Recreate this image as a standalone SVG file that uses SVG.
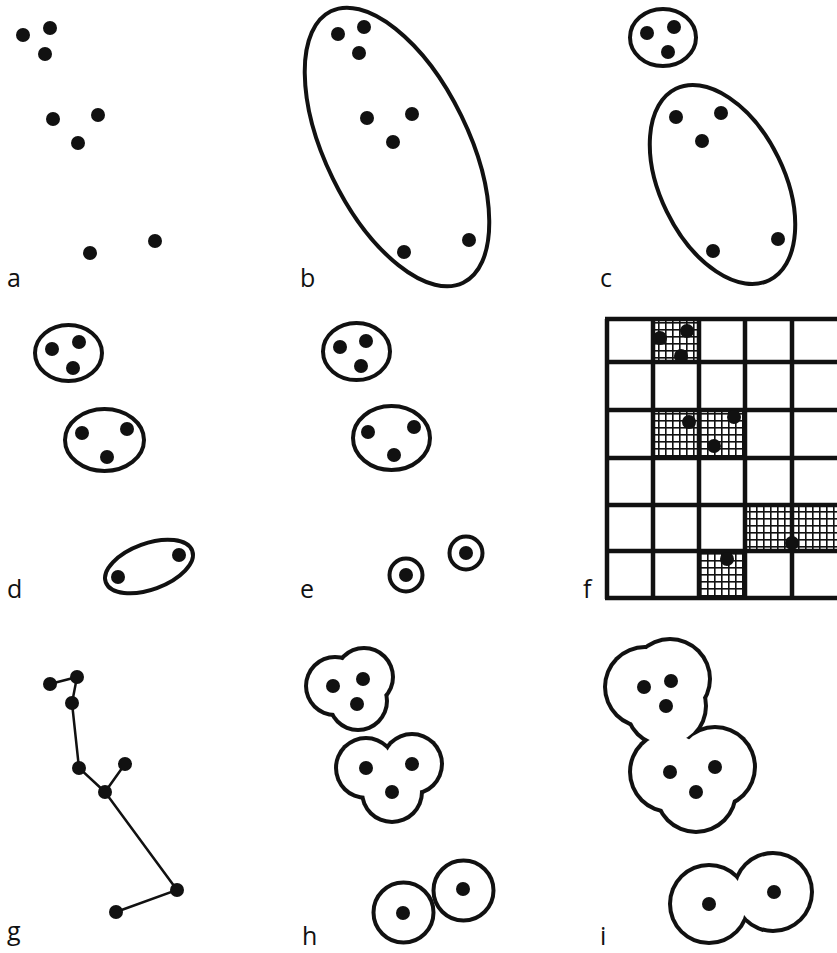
<svg xmlns="http://www.w3.org/2000/svg" width="837" height="953" viewBox="0 0 837 953">
<defs>
<style>
.dot{fill:#111}
.ring{fill:none;stroke:#111;stroke-width:4}
.lbl{font-family:"Open Sans","Liberation Sans",sans-serif;font-size:25px;fill:#111}
.grid{stroke:#111;stroke-width:4.5;fill:none}
.edge{stroke:#111;stroke-width:2.5;fill:none}
.blk{fill:#111}
.wht{fill:#fff}
</style>
<pattern id="hatch" patternUnits="userSpaceOnUse" width="7" height="7" x="0" y="0">
<rect x="0" y="0" width="7" height="7" fill="#fff"/>
<rect x="0" y="0" width="1.6" height="7" fill="#111"/>
<rect x="0" y="0" width="7" height="1.6" fill="#111"/>
</pattern>
</defs>
<rect width="837" height="953" fill="#fff"/>

<!-- panel a -->
<g id="panel-a">
<circle class="dot" cx="23" cy="35" r="7"/><circle class="dot" cx="50" cy="28" r="7"/><circle class="dot" cx="45" cy="54" r="7"/>
<circle class="dot" cx="53" cy="119" r="7"/><circle class="dot" cx="98" cy="115" r="7"/><circle class="dot" cx="78" cy="143" r="7"/>
<circle class="dot" cx="90" cy="253" r="7"/><circle class="dot" cx="155" cy="241" r="7"/>
<text class="lbl" x="7" y="287">a</text>
</g>

<!-- panel b -->
<g id="panel-b">
<ellipse class="ring" cx="397" cy="147" rx="151" ry="71.5" transform="rotate(64 397 147)"/>
<circle class="dot" cx="338" cy="34" r="7"/><circle class="dot" cx="364" cy="27" r="7"/><circle class="dot" cx="359" cy="53" r="7"/>
<circle class="dot" cx="367" cy="118" r="7"/><circle class="dot" cx="412" cy="114" r="7"/><circle class="dot" cx="393" cy="142" r="7"/>
<circle class="dot" cx="404" cy="252" r="7"/><circle class="dot" cx="469" cy="240" r="7"/>
<text class="lbl" x="300" y="287">b</text>
</g>

<!-- panel c -->
<g id="panel-c">
<ellipse class="ring" cx="663" cy="37.5" rx="33" ry="28.5"/>
<ellipse class="ring" cx="722.5" cy="184.5" rx="106.5" ry="62" transform="rotate(64 722.5 184.5)"/>
<circle class="dot" cx="647" cy="33" r="7"/><circle class="dot" cx="674" cy="27" r="7"/><circle class="dot" cx="668" cy="52" r="7"/>
<circle class="dot" cx="676" cy="117" r="7"/><circle class="dot" cx="721" cy="113" r="7"/><circle class="dot" cx="702" cy="141" r="7"/>
<circle class="dot" cx="713" cy="251" r="7"/><circle class="dot" cx="778" cy="239" r="7"/>
<text class="lbl" x="600" y="287">c</text>
</g>

<!-- panel d -->
<g id="panel-d">
<ellipse class="ring" cx="68.5" cy="353" rx="33.5" ry="28"/>
<ellipse class="ring" cx="104.5" cy="440" rx="39.5" ry="31"/>
<ellipse class="ring" cx="149" cy="566.5" rx="46" ry="23" transform="rotate(-20 149 566.5)"/>
<circle class="dot" cx="52" cy="349" r="7"/><circle class="dot" cx="79" cy="342" r="7"/><circle class="dot" cx="73" cy="368" r="7"/>
<circle class="dot" cx="82" cy="433" r="7"/><circle class="dot" cx="127" cy="429" r="7"/><circle class="dot" cx="107" cy="457" r="7"/>
<circle class="dot" cx="118" cy="577" r="7"/><circle class="dot" cx="179" cy="555" r="7"/>
<text class="lbl" x="7" y="598">d</text>
</g>

<!-- panel e -->
<g id="panel-e">
<ellipse class="ring" cx="356.5" cy="351.5" rx="33.5" ry="28.5"/>
<ellipse class="ring" cx="391.5" cy="438" rx="38.5" ry="32"/>
<circle class="ring" cx="406" cy="575" r="16.5"/>
<circle class="ring" cx="466" cy="553" r="16.5"/>
<circle class="dot" cx="340" cy="347" r="7"/><circle class="dot" cx="366" cy="341" r="7"/><circle class="dot" cx="361" cy="366" r="7"/>
<circle class="dot" cx="368" cy="432" r="7"/><circle class="dot" cx="414" cy="427" r="7"/><circle class="dot" cx="394" cy="455" r="7"/>
<circle class="dot" cx="406" cy="575" r="7"/><circle class="dot" cx="466" cy="553" r="7"/>
<text class="lbl" x="300" y="598">e</text>
</g>

<!-- panel f -->
<g id="panel-f">
<rect x="653" y="319" width="46" height="43" fill="url(#hatch)"/>
<rect x="653" y="410" width="92" height="48" fill="url(#hatch)"/>
<rect x="745" y="505" width="93" height="46" fill="url(#hatch)"/>
<rect x="699" y="551" width="46" height="48" fill="url(#hatch)"/>
<path class="grid" d="M607 319V599M653 319V599M699 319V599M745 319V599M792 319V599M605 319H840M605 362H840M605 410H840M605 458H840M605 505H840M605 551H840M605 598H840"/>
<circle class="dot" cx="660" cy="338" r="7"/><circle class="dot" cx="687" cy="331" r="7"/><circle class="dot" cx="681" cy="356" r="7"/>
<circle class="dot" cx="689" cy="422" r="7"/><circle class="dot" cx="734" cy="417" r="7"/><circle class="dot" cx="714" cy="446" r="7"/>
<circle class="dot" cx="792" cy="543" r="7"/><circle class="dot" cx="727" cy="559" r="7"/>
<text class="lbl" x="583" y="598">f</text>
</g>

<!-- panel g -->
<g id="connectors">
<path class="edge" d="M50 684L77 677L72 703L79 768L105 792L125 764M105 792L177 890L116 912"/>
</g>
<g id="panel-g">
<circle class="dot" cx="50" cy="684" r="7"/><circle class="dot" cx="77" cy="677" r="7"/><circle class="dot" cx="72" cy="703" r="7"/>
<circle class="dot" cx="79" cy="768" r="7"/><circle class="dot" cx="125" cy="764" r="7"/><circle class="dot" cx="105" cy="792" r="7"/>
<circle class="dot" cx="177" cy="890" r="7"/><circle class="dot" cx="116" cy="912" r="7"/>
<text class="lbl" x="7" y="940">g</text>
</g>

<!-- panel h -->
<g id="panel-h">
<g id="h-blob-top">
<circle class="blk" cx="335" cy="686" r="31"/><circle class="blk" cx="364" cy="677" r="31"/><circle class="blk" cx="358" cy="701" r="31"/>
<circle class="wht" cx="335" cy="686" r="27"/><circle class="wht" cx="364" cy="677" r="27"/><circle class="wht" cx="358" cy="701" r="27"/>
</g>
<g id="h-blob-mid">
<circle class="blk" cx="366" cy="768" r="32"/><circle class="blk" cx="412" cy="764" r="32"/><circle class="blk" cx="392" cy="792" r="32"/>
<circle class="wht" cx="366" cy="768" r="28"/><circle class="wht" cx="412" cy="764" r="28"/><circle class="wht" cx="392" cy="792" r="28"/>
</g>
<circle class="ring" cx="403.5" cy="912.5" r="30"/>
<circle class="ring" cx="463.5" cy="890.5" r="30"/>
<circle class="dot" cx="333" cy="686" r="7"/><circle class="dot" cx="363" cy="679" r="7"/><circle class="dot" cx="357" cy="704" r="7"/>
<circle class="dot" cx="366" cy="768" r="7"/><circle class="dot" cx="412" cy="764" r="7"/><circle class="dot" cx="392" cy="792" r="7"/>
<circle class="dot" cx="403" cy="913" r="7"/><circle class="dot" cx="463" cy="889" r="7"/>
<text class="lbl" x="302" y="945">h</text>
</g>

<!-- panel i -->
<g id="panel-i">
<g id="i-blob-upper">
<circle class="blk" cx="645" cy="687" r="42"/><circle class="blk" cx="670" cy="679" r="42"/><circle class="blk" cx="666" cy="706" r="42"/>
<circle class="blk" cx="670" cy="772" r="42"/><circle class="blk" cx="715" cy="767" r="42"/><circle class="blk" cx="696" cy="792" r="42"/>
<circle class="wht" cx="645" cy="687" r="38"/><circle class="wht" cx="670" cy="679" r="38"/><circle class="wht" cx="666" cy="706" r="38"/>
<circle class="wht" cx="670" cy="772" r="38"/><circle class="wht" cx="715" cy="767" r="38"/><circle class="wht" cx="696" cy="792" r="38"/>
</g>
<g id="i-blob-lower">
<circle class="blk" cx="709" cy="904" r="41"/><circle class="blk" cx="773" cy="892" r="41"/>
<circle class="wht" cx="709" cy="904" r="37"/><circle class="wht" cx="773" cy="892" r="37"/>
</g>
<circle class="dot" cx="644" cy="687" r="7"/><circle class="dot" cx="671" cy="681" r="7"/><circle class="dot" cx="666" cy="706" r="7"/>
<circle class="dot" cx="670" cy="772" r="7"/><circle class="dot" cx="715" cy="767" r="7"/><circle class="dot" cx="696" cy="792" r="7"/>
<circle class="dot" cx="709" cy="904" r="7"/><circle class="dot" cx="774" cy="892" r="7"/>
<text class="lbl" x="600" y="945">i</text>
</g>
</svg>
